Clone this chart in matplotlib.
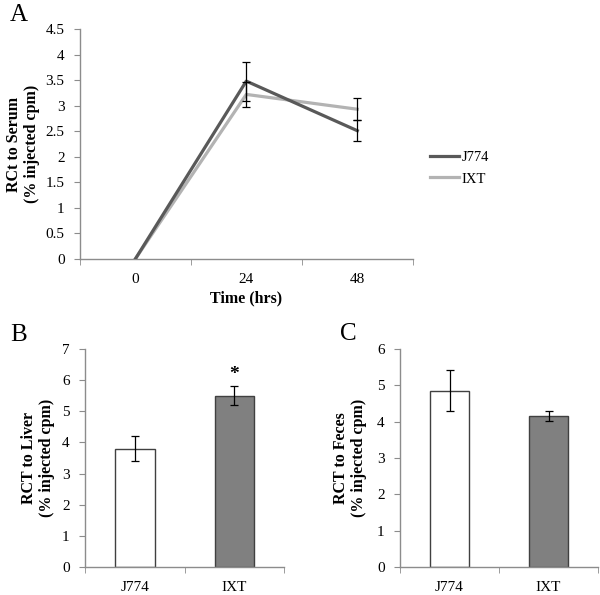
import matplotlib
matplotlib.use("Agg")
import matplotlib.pyplot as plt
import numpy as np

plt.rcParams['font.family'] = ['Liberation Serif', 'DejaVu Serif']

# Panel A data
time_labels = ['0', '24', '48']
serum_j774 = [0.0, 3.48, 2.51]
serum_j774_err = [0.0, 0.38, 0.21]
serum_ixt = [0.0, 3.22, 2.93]
serum_ixt_err = [0.0, 0.24, 0.21]

# Panel B data
groups = ['J774', 'IXT']
liver = [3.8, 5.5]
liver_err = [0.4, 0.3]

# Panel C data
feces = [4.85, 4.16]
feces_err = [0.57, 0.13]

dark = '#595959'
light = '#b3b3b3'
spine_c = '#8c8c8c'

fig = plt.figure(figsize=(6.0, 5.95), dpi=100)

def style(ax):
    for s in ['top', 'right']:
        ax.spines[s].set_visible(False)
    for s in ['left', 'bottom']:
        ax.spines[s].set_color(spine_c)
        ax.spines[s].set_linewidth(1.0)
    ax.tick_params(axis='y', direction='out', length=4, color=spine_c, labelsize=11, pad=7)
    ax.tick_params(axis='x', which='major', length=0, labelsize=11, pad=10)
    ax.tick_params(axis='x', which='minor', direction='out', length=4, color=spine_c)

# ---- Panel A
axA = fig.add_axes([0.133, 0.5647, 0.555, 0.3866])
x = np.arange(len(time_labels))
axA.plot(x, serum_j774, color=dark, lw=2.3, label='J774', zorder=3)
axA.plot(x, serum_ixt, color=light, lw=2.3, label='IXT', zorder=2)
axA.errorbar(x[1:], serum_j774[1:], yerr=serum_j774_err[1:], fmt='none', ecolor='black', elinewidth=0.9, capsize=3, capthick=0.9, zorder=4)
axA.errorbar(x[1:], serum_ixt[1:], yerr=serum_ixt_err[1:], fmt='none', ecolor='black', elinewidth=0.9, capsize=3, capthick=0.9, zorder=4)
axA.set_xlim(-0.5, 2.5)
axA.set_ylim(0, 4.5)
axA.set_yticks(np.arange(0, 4.51, 0.5))
axA.set_yticklabels(['0', '0.5', '1', '1.5', '2', '2.5', '3', '3.5', '4', '4.5'])
axA.set_xticks(x)
axA.set_xticklabels(time_labels)
axA.set_xticks([-0.5, 0.5, 1.5, 2.5], minor=True)
style(axA)
axA.set_xlabel('Time (hrs)', fontsize=11.5, fontweight='bold', labelpad=3)
axA.set_ylabel('RCt to Serum\n(% injected cpm)', fontsize=11.5, fontweight='bold', labelpad=4)
axA.legend(loc='center left', bbox_to_anchor=(0.695, 1 - 168 / 595), bbox_transform=fig.transFigure,
           frameon=False, fontsize=10.5, handlelength=2.0, labelspacing=0.6, handletextpad=0.15)

# ---- Panel B
axB = fig.add_axes([0.1417, 0.0471, 0.332, 0.3664])
xb = np.arange(len(groups))
axB.bar(xb, liver, width=0.4, color=['white', '#808080'], edgecolor='#404040', linewidth=1.0, zorder=2)
axB.errorbar(xb, liver, yerr=liver_err, fmt='none', ecolor='black', elinewidth=0.9, capsize=3, capthick=0.9, zorder=3)
axB.set_xlim(-0.5, 1.5)
axB.set_ylim(0, 7)
axB.set_yticks(range(0, 8))
axB.set_xticks(xb)
axB.set_xticklabels(groups)
axB.set_xticks([-0.5, 0.5, 1.5], minor=True)
style(axB)
axB.set_ylabel('RCT to Liver\n(% injected cpm)', fontsize=11.5, fontweight='bold', labelpad=5)
axB.text(1, liver[1] + liver_err[1] + 0.12, '*', ha='center', va='bottom', fontsize=14, fontweight='bold')

# ---- Panel C
axC = fig.add_axes([0.6667, 0.0471, 0.33, 0.3664])
axC.bar(xb, feces, width=0.4, color=['white', '#808080'], edgecolor='#404040', linewidth=1.0, zorder=2)
axC.errorbar(xb, feces, yerr=feces_err, fmt='none', ecolor='black', elinewidth=0.9, capsize=3, capthick=0.9, zorder=3)
axC.set_xlim(-0.5, 1.5)
axC.set_ylim(0, 6)
axC.set_yticks(range(0, 7))
axC.set_xticks(xb)
axC.set_xticklabels(groups)
axC.set_xticks([-0.5, 0.5, 1.5], minor=True)
style(axC)
axC.set_ylabel('RCT to Feces\n(% injected cpm)', fontsize=11.5, fontweight='bold', labelpad=7)

# panel letters
fig.text(0.017, 0.975, 'A', fontsize=18, ha='left', va='center')
fig.text(0.017, 0.437, 'B', fontsize=18, ha='left', va='center')
fig.text(0.567, 0.439, 'C', fontsize=18, ha='left', va='center')

fig.savefig('out.png', dpi=100)
